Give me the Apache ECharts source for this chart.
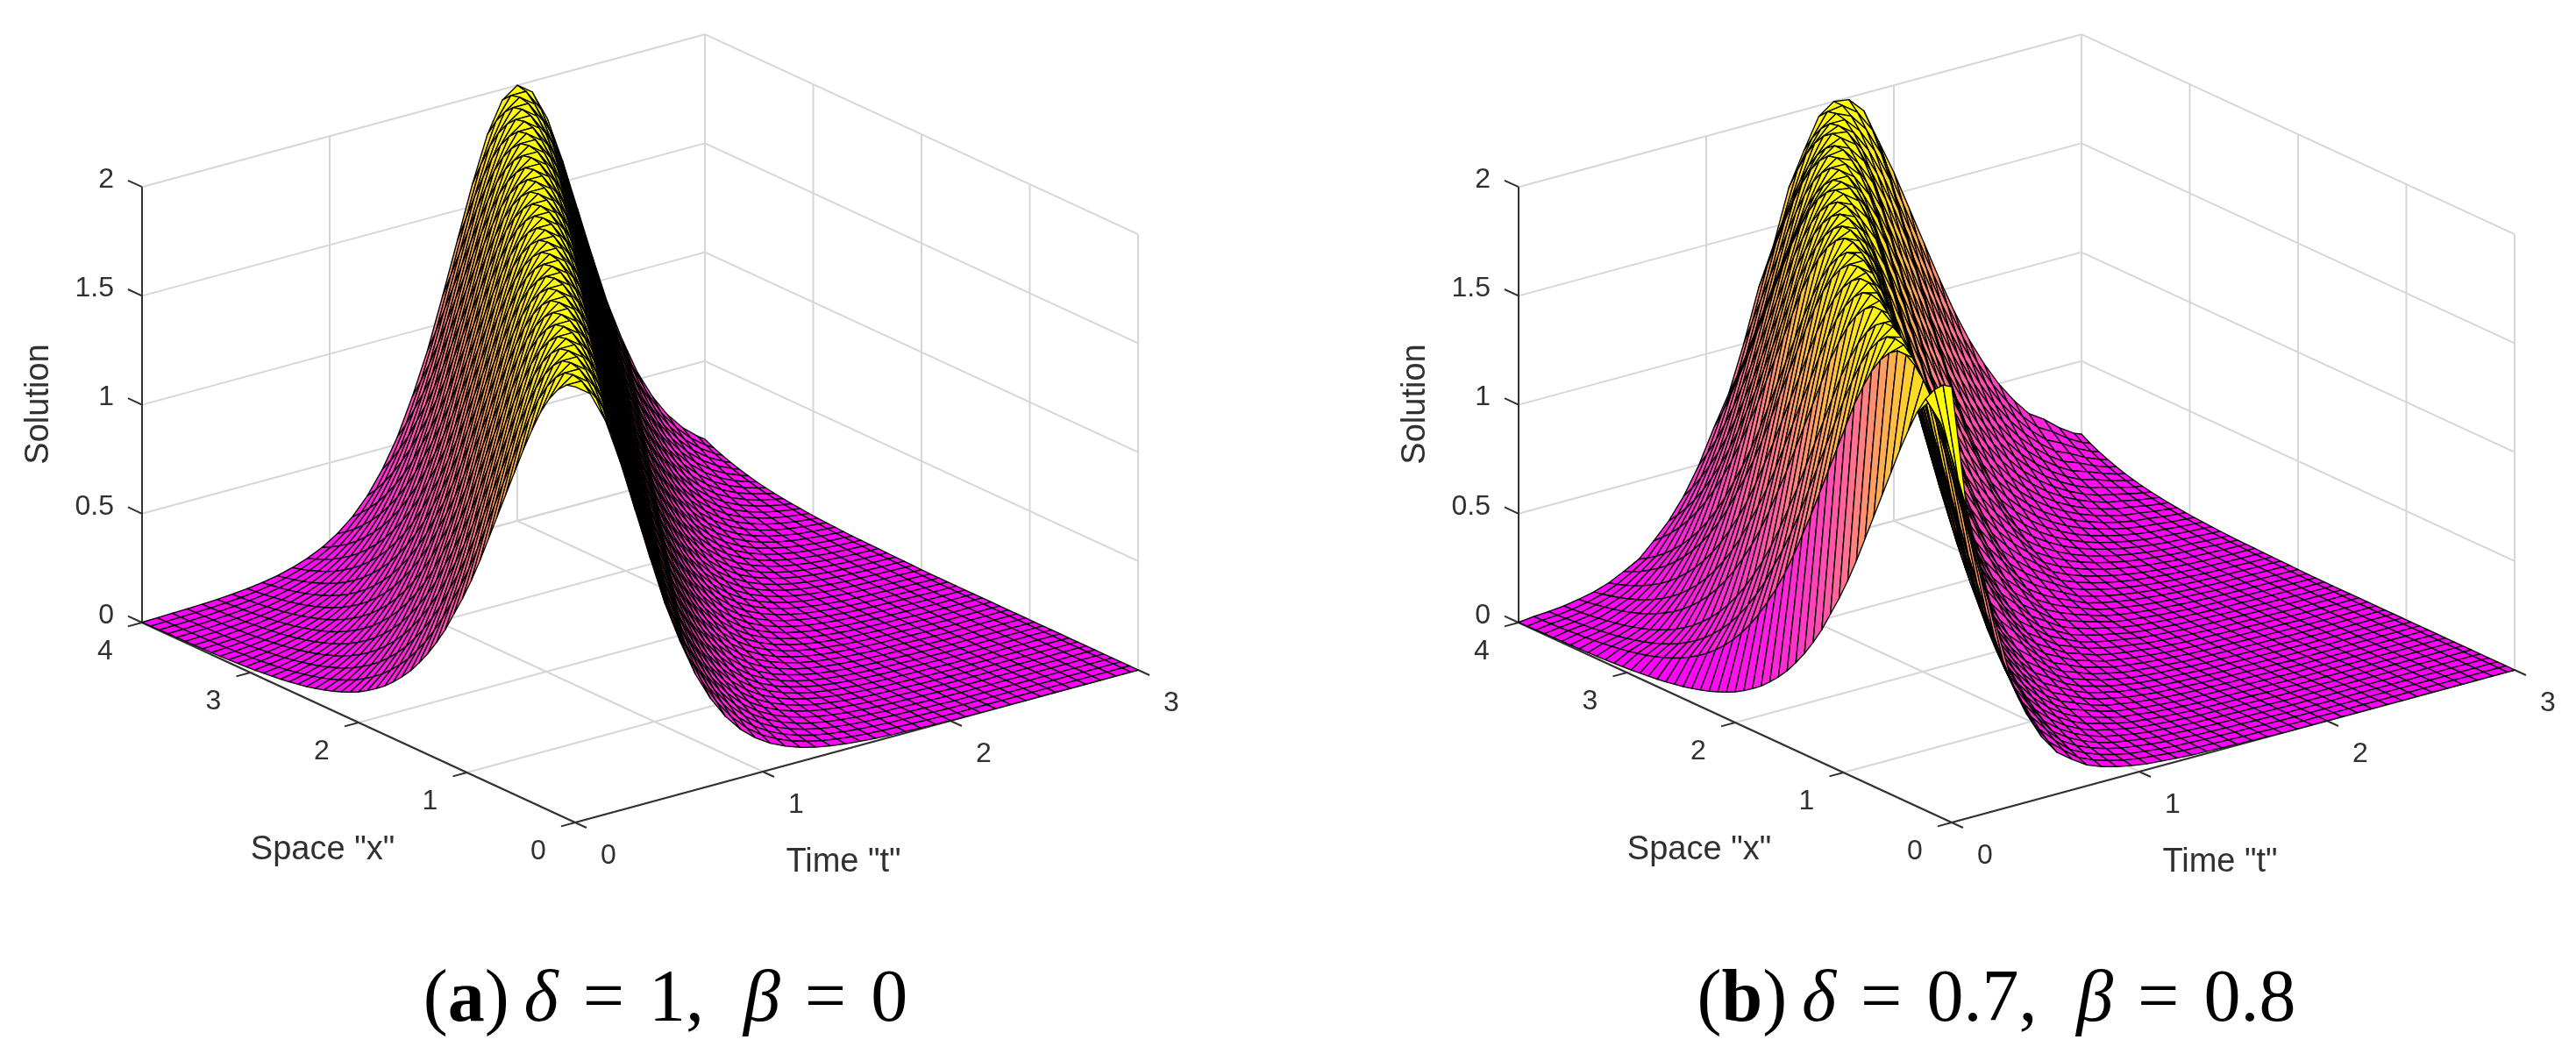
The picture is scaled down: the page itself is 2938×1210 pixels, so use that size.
<!DOCTYPE html>
<html><head><meta charset="utf-8"><style>html,body{margin:0;background:#fff}#c{width:2938px;height:1210px}</style>
<script src="https://cdn.jsdelivr.net/npm/echarts@6/dist/echarts.min.js"></script></head><body><div id="c"></div>
<script>
// Mesh
const timeT=[0,.08,.16,.24,.32,.4,.48,.56,.64,.72,.8,.88,.96,1.04,1.12,1.2,1.28,1.36,1.44,1.52,1.6,1.68,1.76,1.84,1.92,2,2.08,2.16,2.24,2.32,2.4,2.48,2.56,2.64,2.72,2.8,2.88,2.96,3];
const spaceX=[0,.08,.16,.24,.32,.4,.48,.56,.64,.72,.8,.88,.96,1.04,1.12,1.2,1.28,1.36,1.44,1.52,1.6,1.68,1.76,1.84,1.92,2,2.08,2.16,2.24,2.32,2.4,2.48,2.56,2.64,2.72,2.8,2.88,2.96,3.04,3.12,3.2,3.28,3.36,3.44,3.52,3.6,3.68,3.76,3.84,3.92,4];
const tTicks=[0,1,2,3], xTicks=[0,1,2,3,4], zTicks=[0,.5,1,1.5,2];
// Solution heights in hundredths; one row per time, one column per space step
const solutionA=[
[200,199,195,189,181,171,160,148,136,124,112,100,89,79,70,61,53.3,46.4,40.3,34.8,30.1,26,22.3,19.2,16.5,14.1,12.1,10.4,8.9,7.6,6.5,5.5,4.7,4,3.4,2.9,2.5,2.1,1.8,1.5,1.3,1.1,.9,.8,.7,.6,.5,.4,.3,.2,.1],
[195,199,200,199,195,189,181,171,160,148,136,124,112,100,89,79,70,61,53.3,46.4,40.3,34.8,30.1,26,22.3,19.2,16.5,14.1,12.1,10.4,8.9,7.6,6.5,5.5,4.7,4,3.4,2.9,2.5,2.1,1.8,1.5,1.3,1.1,.9,.8,.7,.6,.5,.4,.3],
[181,189,195,199,200,199,195,189,181,171,160,148,136,124,112,100,89,79,70,61,53.3,46.4,40.3,34.8,30.1,26,22.3,19.2,16.5,14.1,12.1,10.4,8.9,7.6,6.5,5.5,4.7,4,3.4,2.9,2.5,2.1,1.8,1.5,1.3,1.1,.9,.8,.7,.6,.5],
[160,171,181,189,195,199,200,199,195,189,181,171,160,148,136,124,112,100,89,79,70,61,53.3,46.4,40.3,34.8,30.1,26,22.3,19.2,16.5,14.1,12.1,10.4,8.9,7.6,6.5,5.5,4.7,4,3.4,2.9,2.5,2.1,1.8,1.5,1.3,1.1,.9,.8,.7],
[136,148,160,171,181,189,195,199,200,199,195,189,181,171,160,148,136,124,112,100,89,79,70,61,53.3,46.4,40.3,34.8,30.1,26,22.3,19.2,16.5,14.1,12.1,10.4,8.9,7.6,6.5,5.5,4.7,4,3.4,2.9,2.5,2.1,1.8,1.5,1.3,1.1,.9],
[112,124,136,148,160,171,181,189,195,199,200,199,195,189,181,171,160,148,136,124,112,100,89,79,70,61,53.3,46.4,40.3,34.8,30.1,26,22.3,19.2,16.5,14.1,12.1,10.4,8.9,7.6,6.5,5.5,4.7,4,3.4,2.9,2.5,2.1,1.8,1.5,1.3],
[89,100,112,124,136,148,160,171,181,189,195,199,200,199,195,189,181,171,160,148,136,124,112,100,89,79,70,61,53.3,46.4,40.3,34.8,30.1,26,22.3,19.2,16.5,14.1,12.1,10.4,8.9,7.6,6.5,5.5,4.7,4,3.4,2.9,2.5,2.1,1.8],
[70,79,89,100,112,124,136,148,160,171,181,189,195,199,200,199,195,189,181,171,160,148,136,124,112,100,89,79,70,61,53.3,46.4,40.3,34.8,30.1,26,22.3,19.2,16.5,14.1,12.1,10.4,8.9,7.6,6.5,5.5,4.7,4,3.4,2.9,2.5],
[53.3,61,70,79,89,100,112,124,136,148,160,171,181,189,195,199,200,199,195,189,181,171,160,148,136,124,112,100,89,79,70,61,53.3,46.4,40.3,34.8,30.1,26,22.3,19.2,16.5,14.1,12.1,10.4,8.9,7.6,6.5,5.5,4.7,4,3.4],
[40.3,46.4,53.3,61,70,79,89,100,112,124,136,148,160,171,181,189,195,199,200,199,195,189,181,171,160,148,136,124,112,100,89,79,70,61,53.3,46.4,40.3,34.8,30.1,26,22.3,19.2,16.5,14.1,12.1,10.4,8.9,7.6,6.5,5.5,4.7],
[30.1,34.8,40.3,46.4,53.3,61,70,79,89,100,112,124,136,148,160,171,181,189,195,199,200,199,195,189,181,171,160,148,136,124,112,100,89,79,70,61,53.3,46.4,40.3,34.8,30.1,26,22.3,19.2,16.5,14.1,12.1,10.4,8.9,7.6,6.5],
[22.3,26,30.1,34.8,40.3,46.4,53.3,61,70,79,89,100,112,124,136,148,160,171,181,189,195,199,200,199,195,189,181,171,160,148,136,124,112,100,89,79,70,61,53.3,46.4,40.3,34.8,30.1,26,22.3,19.2,16.5,14.1,12.1,10.4,8.9],
[16.5,19.2,22.3,26,30.1,34.8,40.3,46.4,53.3,61,70,79,89,100,112,124,136,148,160,171,181,189,195,199,200,199,195,189,181,171,160,148,136,124,112,100,89,79,70,61,53.3,46.4,40.3,34.8,30.1,26,22.3,19.2,16.5,14.1,12.1],
[12.1,14.1,16.5,19.2,22.3,26,30.1,34.8,40.3,46.4,53.3,61,70,79,89,100,112,124,136,148,160,171,181,189,195,199,200,199,195,189,181,171,160,148,136,124,112,100,89,79,70,61,53.3,46.4,40.3,34.8,30.1,26,22.3,19.2,16.5],
[8.9,10.4,12.1,14.1,16.5,19.2,22.3,26,30.1,34.8,40.3,46.4,53.3,61,70,79,89,100,112,124,136,148,160,171,181,189,195,199,200,199,195,189,181,171,160,148,136,124,112,100,89,79,70,61,53.3,46.4,40.3,34.8,30.1,26,22.3],
[6.5,7.6,8.9,10.4,12.1,14.1,16.5,19.2,22.3,26,30.1,34.8,40.3,46.4,53.3,61,70,79,89,100,112,124,136,148,160,171,181,189,195,199,200,199,195,189,181,171,160,148,136,124,112,100,89,79,70,61,53.3,46.4,40.3,34.8,30.1],
[4.7,5.5,6.5,7.6,8.9,10.4,12.1,14.1,16.5,19.2,22.3,26,30.1,34.8,40.3,46.4,53.3,61,70,79,89,100,112,124,136,148,160,171,181,189,195,199,200,199,195,189,181,171,160,148,136,124,112,100,89,79,70,61,53.3,46.4,40.3],
[3.4,4,4.7,5.5,6.5,7.6,8.9,10.4,12.1,14.1,16.5,19.2,22.3,26,30.1,34.8,40.3,46.4,53.3,61,70,79,89,100,112,124,136,148,160,171,181,189,195,199,200,199,195,189,181,171,160,148,136,124,112,100,89,79,70,61,53.3],
[2.5,2.9,3.4,4,4.7,5.5,6.5,7.6,8.9,10.4,12.1,14.1,16.5,19.2,22.3,26,30.1,34.8,40.3,46.4,53.3,61,70,79,89,100,112,124,136,148,160,171,181,189,195,199,200,199,195,189,181,171,160,148,136,124,112,100,89,79,70],
[1.8,2.1,2.5,2.9,3.4,4,4.7,5.5,6.5,7.6,8.9,10.4,12.1,14.1,16.5,19.2,22.3,26,30.1,34.8,40.3,46.4,53.3,61,70,79,89,100,112,124,136,148,160,171,181,189,195,199,200,199,195,189,181,171,160,148,136,124,112,100,89],
[1.3,1.5,1.8,2.1,2.5,2.9,3.4,4,4.7,5.5,6.5,7.6,8.9,10.4,12.1,14.1,16.5,19.2,22.3,26,30.1,34.8,40.3,46.4,53.3,61,70,79,89,100,112,124,136,148,160,171,181,189,195,199,200,199,195,189,181,171,160,148,136,124,112],
[.9,1.1,1.3,1.5,1.8,2.1,2.5,2.9,3.4,4,4.7,5.5,6.5,7.6,8.9,10.4,12.1,14.1,16.5,19.2,22.3,26,30.1,34.8,40.3,46.4,53.3,61,70,79,89,100,112,124,136,148,160,171,181,189,195,199,200,199,195,189,181,171,160,148,136],
[.7,.8,.9,1.1,1.3,1.5,1.8,2.1,2.5,2.9,3.4,4,4.7,5.5,6.5,7.6,8.9,10.4,12.1,14.1,16.5,19.2,22.3,26,30.1,34.8,40.3,46.4,53.3,61,70,79,89,100,112,124,136,148,160,171,181,189,195,199,200,199,195,189,181,171,160],
[.5,.6,.7,.8,.9,1.1,1.3,1.5,1.8,2.1,2.5,2.9,3.4,4,4.7,5.5,6.5,7.6,8.9,10.4,12.1,14.1,16.5,19.2,22.3,26,30.1,34.8,40.3,46.4,53.3,61,70,79,89,100,112,124,136,148,160,171,181,189,195,199,200,199,195,189,181],
[.3,.4,.5,.6,.7,.8,.9,1.1,1.3,1.5,1.8,2.1,2.5,2.9,3.4,4,4.7,5.5,6.5,7.6,8.9,10.4,12.1,14.1,16.5,19.2,22.3,26,30.1,34.8,40.3,46.4,53.3,61,70,79,89,100,112,124,136,148,160,171,181,189,195,199,200,199,195],
[.1,.2,.3,.4,.5,.6,.7,.8,.9,1.1,1.3,1.5,1.8,2.1,2.5,2.9,3.4,4,4.7,5.5,6.5,7.6,8.9,10.4,12.1,14.1,16.5,19.2,22.3,26,30.1,34.8,40.3,46.4,53.3,61,70,79,89,100,112,124,136,148,160,171,181,189,195,199,200],
[0,0,.1,.2,.3,.4,.5,.6,.7,.8,.9,1.1,1.3,1.5,1.8,2.1,2.5,2.9,3.4,4,4.7,5.5,6.5,7.6,8.9,10.4,12.1,14.1,16.5,19.2,22.3,26,30.1,34.8,40.3,46.4,53.3,61,70,79,89,100,112,124,136,148,160,171,181,189,195],
[0,0,0,0,.1,.2,.3,.4,.5,.6,.7,.8,.9,1.1,1.3,1.5,1.8,2.1,2.5,2.9,3.4,4,4.7,5.5,6.5,7.6,8.9,10.4,12.1,14.1,16.5,19.2,22.3,26,30.1,34.8,40.3,46.4,53.3,61,70,79,89,100,112,124,136,148,160,171,181],
[0,0,0,0,0,0,.1,.2,.3,.4,.5,.6,.7,.8,.9,1.1,1.3,1.5,1.8,2.1,2.5,2.9,3.4,4,4.7,5.5,6.5,7.6,8.9,10.4,12.1,14.1,16.5,19.2,22.3,26,30.1,34.8,40.3,46.4,53.3,61,70,79,89,100,112,124,136,148,160],
[0,0,0,0,0,0,0,0,.1,.2,.3,.4,.5,.6,.7,.8,.9,1.1,1.3,1.5,1.8,2.1,2.5,2.9,3.4,4,4.7,5.5,6.5,7.6,8.9,10.4,12.1,14.1,16.5,19.2,22.3,26,30.1,34.8,40.3,46.4,53.3,61,70,79,89,100,112,124,136],
[0,0,0,0,0,0,0,0,0,0,.1,.2,.3,.4,.5,.6,.7,.8,.9,1.1,1.3,1.5,1.8,2.1,2.5,2.9,3.4,4,4.7,5.5,6.5,7.6,8.9,10.4,12.1,14.1,16.5,19.2,22.3,26,30.1,34.8,40.3,46.4,53.3,61,70,79,89,100,112],
[0,0,0,0,0,0,0,0,0,0,0,0,.1,.2,.3,.4,.5,.6,.7,.8,.9,1.1,1.3,1.5,1.8,2.1,2.5,2.9,3.4,4,4.7,5.5,6.5,7.6,8.9,10.4,12.1,14.1,16.5,19.2,22.3,26,30.1,34.8,40.3,46.4,53.3,61,70,79,89],
[0,0,0,0,0,0,0,0,0,0,0,0,0,0,.1,.2,.3,.4,.5,.6,.7,.8,.9,1.1,1.3,1.5,1.8,2.1,2.5,2.9,3.4,4,4.7,5.5,6.5,7.6,8.9,10.4,12.1,14.1,16.5,19.2,22.3,26,30.1,34.8,40.3,46.4,53.3,61,70],
[0,0,0,0,0,0,0,0,0,0,0,0,0,0,0,0,.1,.2,.3,.4,.5,.6,.7,.8,.9,1.1,1.3,1.5,1.8,2.1,2.5,2.9,3.4,4,4.7,5.5,6.5,7.6,8.9,10.4,12.1,14.1,16.5,19.2,22.3,26,30.1,34.8,40.3,46.4,53.3],
[0,0,0,0,0,0,0,0,0,0,0,0,0,0,0,0,0,0,.1,.2,.3,.4,.5,.6,.7,.8,.9,1.1,1.3,1.5,1.8,2.1,2.5,2.9,3.4,4,4.7,5.5,6.5,7.6,8.9,10.4,12.1,14.1,16.5,19.2,22.3,26,30.1,34.8,40.3],
[0,0,0,0,0,0,0,0,0,0,0,0,0,0,0,0,0,0,0,0,.1,.2,.3,.4,.5,.6,.7,.8,.9,1.1,1.3,1.5,1.8,2.1,2.5,2.9,3.4,4,4.7,5.5,6.5,7.6,8.9,10.4,12.1,14.1,16.5,19.2,22.3,26,30.1],
[0,0,0,0,0,0,0,0,0,0,0,0,0,0,0,0,0,0,0,0,0,0,.1,.2,.3,.4,.5,.6,.7,.8,.9,1.1,1.3,1.5,1.8,2.1,2.5,2.9,3.4,4,4.7,5.5,6.5,7.6,8.9,10.4,12.1,14.1,16.5,19.2,22.3],
[0,0,0,0,0,0,0,0,0,0,0,0,0,0,0,0,0,0,0,0,0,0,0,0,.1,.2,.3,.4,.5,.6,.7,.8,.9,1.1,1.3,1.5,1.8,2.1,2.5,2.9,3.4,4,4.7,5.5,6.5,7.6,8.9,10.4,12.1,14.1,16.5],
[0,0,0,0,0,0,0,0,0,0,0,0,0,0,0,0,0,0,0,0,0,0,0,0,0,.1,.2,.3,.4,.5,.6,.7,.8,.9,1.1,1.3,1.5,1.8,2.1,2.5,2.9,3.4,4,4.7,5.5,6.5,7.6,8.9,10.4,12.1,14.1]
];
const solutionB=[
[200,199,195,189,181,171,160,148,136,124,112,100,89,79,70,61,53.3,46.4,40.3,34.8,30.1,26,22.3,19.2,16.5,14.1,12.1,10.4,8.9,7.6,6.5,5.5,4.7,4,3.4,2.9,2.5,2.1,1.8,1.5,1.3,1.1,.9,.8,.7,.6,.5,.4,.3,.2,.1],
[142,154,166,176,185,192,197,200,200,197,192,185,176,166,154,142,130,118,106,95,84,74,65,57.1,49.7,43.2,37.5,32.4,28,24.1,20.7,17.8,15.3,13.1,11.2,9.6,8.2,7,6,5.1,4.4,3.7,3.2,2.7,2.3,2,1.7,1.4,1.2,1,.9],
[112,124,136,148,160,171,181,189,195,199,200,199,195,189,181,171,160,148,136,124,112,100,89,79,70,61,53.3,46.4,40.3,34.8,30.1,26,22.3,19.2,16.5,14.1,12.1,10.4,8.9,7.6,6.5,5.5,4.7,4,3.4,2.9,2.5,2.1,1.8,1.5,1.3],
[84,95,106,118,130,142,154,166,176,185,192,197,200,200,197,192,185,176,166,154,142,130,118,106,95,84,74,65,57.1,49.7,43.2,37.5,32.4,28,24.1,20.7,17.8,15.3,13.1,11.2,9.6,8.2,7,6,5.1,4.4,3.7,3.2,2.7,2.3,2],
[57.1,65,74,84,95,106,118,130,142,154,166,176,185,192,197,200,200,197,192,185,176,166,154,142,130,118,106,95,84,74,65,57.1,49.7,43.2,37.5,32.4,28,24.1,20.7,17.8,15.3,13.1,11.2,9.6,8.2,7,6,5.1,4.4,3.7,3.2],
[40.3,46.4,53.3,61,70,79,89,100,112,124,136,148,160,171,181,189,195,199,200,199,195,189,181,171,160,148,136,124,112,100,89,79,70,61,53.3,46.4,40.3,34.8,30.1,26,22.3,19.2,16.5,14.1,12.1,10.4,8.9,7.6,6.5,5.5,4.7],
[28,32.4,37.5,43.2,49.7,57.1,65,74,84,95,106,118,130,142,154,166,176,185,192,197,200,200,197,192,185,176,166,154,142,130,118,106,95,84,74,65,57.1,49.7,43.2,37.5,32.4,28,24.1,20.7,17.8,15.3,13.1,11.2,9.6,8.2,7],
[19.2,22.3,26,30.1,34.8,40.3,46.4,53.3,61,70,79,89,100,112,124,136,148,160,171,181,189,195,199,200,199,195,189,181,171,160,148,136,124,112,100,89,79,70,61,53.3,46.4,40.3,34.8,30.1,26,22.3,19.2,16.5,14.1,12.1,10.4],
[14.1,16.5,19.2,22.3,26,30.1,34.8,40.3,46.4,53.3,61,70,79,89,100,112,124,136,148,160,171,181,189,195,199,200,199,195,189,181,171,160,148,136,124,112,100,89,79,70,61,53.3,46.4,40.3,34.8,30.1,26,22.3,19.2,16.5,14.1],
[9.6,11.2,13.1,15.3,17.8,20.7,24.1,28,32.4,37.5,43.2,49.7,57.1,65,74,84,95,106,118,130,142,154,166,176,185,192,197,200,200,197,192,185,176,166,154,142,130,118,106,95,84,74,65,57.1,49.7,43.2,37.5,32.4,28,24.1,20.7],
[7,8.2,9.6,11.2,13.1,15.3,17.8,20.7,24.1,28,32.4,37.5,43.2,49.7,57.1,65,74,84,95,106,118,130,142,154,166,176,185,192,197,200,200,197,192,185,176,166,154,142,130,118,106,95,84,74,65,57.1,49.7,43.2,37.5,32.4,28],
[5.1,6,7,8.2,9.6,11.2,13.1,15.3,17.8,20.7,24.1,28,32.4,37.5,43.2,49.7,57.1,65,74,84,95,106,118,130,142,154,166,176,185,192,197,200,200,197,192,185,176,166,154,142,130,118,106,95,84,74,65,57.1,49.7,43.2,37.5],
[3.7,4.4,5.1,6,7,8.2,9.6,11.2,13.1,15.3,17.8,20.7,24.1,28,32.4,37.5,43.2,49.7,57.1,65,74,84,95,106,118,130,142,154,166,176,185,192,197,200,200,197,192,185,176,166,154,142,130,118,106,95,84,74,65,57.1,49.7],
[2.7,3.2,3.7,4.4,5.1,6,7,8.2,9.6,11.2,13.1,15.3,17.8,20.7,24.1,28,32.4,37.5,43.2,49.7,57.1,65,74,84,95,106,118,130,142,154,166,176,185,192,197,200,200,197,192,185,176,166,154,142,130,118,106,95,84,74,65],
[2.1,2.5,2.9,3.4,4,4.7,5.5,6.5,7.6,8.9,10.4,12.1,14.1,16.5,19.2,22.3,26,30.1,34.8,40.3,46.4,53.3,61,70,79,89,100,112,124,136,148,160,171,181,189,195,199,200,199,195,189,181,171,160,148,136,124,112,100,89,79],
[1.5,1.8,2.1,2.5,2.9,3.4,4,4.7,5.5,6.5,7.6,8.9,10.4,12.1,14.1,16.5,19.2,22.3,26,30.1,34.8,40.3,46.4,53.3,61,70,79,89,100,112,124,136,148,160,171,181,189,195,199,200,199,195,189,181,171,160,148,136,124,112,100],
[1.1,1.3,1.5,1.8,2.1,2.5,2.9,3.4,4,4.7,5.5,6.5,7.6,8.9,10.4,12.1,14.1,16.5,19.2,22.3,26,30.1,34.8,40.3,46.4,53.3,61,70,79,89,100,112,124,136,148,160,171,181,189,195,199,200,199,195,189,181,171,160,148,136,124],
[.9,1,1.2,1.4,1.7,2,2.3,2.7,3.2,3.7,4.4,5.1,6,7,8.2,9.6,11.2,13.1,15.3,17.8,20.7,24.1,28,32.4,37.5,43.2,49.7,57.1,65,74,84,95,106,118,130,142,154,166,176,185,192,197,200,200,197,192,185,176,166,154,142],
[.7,.8,.9,1,1.2,1.4,1.7,2,2.3,2.7,3.2,3.7,4.4,5.1,6,7,8.2,9.6,11.2,13.1,15.3,17.8,20.7,24.1,28,32.4,37.5,43.2,49.7,57.1,65,74,84,95,106,118,130,142,154,166,176,185,192,197,200,200,197,192,185,176,166],
[.5,.6,.7,.8,.9,1.1,1.3,1.5,1.8,2.1,2.5,2.9,3.4,4,4.7,5.5,6.5,7.6,8.9,10.4,12.1,14.1,16.5,19.2,22.3,26,30.1,34.8,40.3,46.4,53.3,61,70,79,89,100,112,124,136,148,160,171,181,189,195,199,200,199,195,189,181],
[.3,.4,.5,.6,.7,.8,.9,1.1,1.3,1.5,1.8,2.1,2.5,2.9,3.4,4,4.7,5.5,6.5,7.6,8.9,10.4,12.1,14.1,16.5,19.2,22.3,26,30.1,34.8,40.3,46.4,53.3,61,70,79,89,100,112,124,136,148,160,171,181,189,195,199,200,199,195],
[.2,.3,.4,.5,.6,.7,.8,.9,1,1.2,1.4,1.7,2,2.3,2.7,3.2,3.7,4.4,5.1,6,7,8.2,9.6,11.2,13.1,15.3,17.8,20.7,24.1,28,32.4,37.5,43.2,49.7,57.1,65,74,84,95,106,118,130,142,154,166,176,185,192,197,200,200],
[0,.1,.2,.3,.4,.5,.6,.7,.8,.9,1.1,1.3,1.5,1.8,2.1,2.5,2.9,3.4,4,4.7,5.5,6.5,7.6,8.9,10.4,12.1,14.1,16.5,19.2,22.3,26,30.1,34.8,40.3,46.4,53.3,61,70,79,89,100,112,124,136,148,160,171,181,189,195,199],
[0,0,.1,.2,.3,.4,.5,.6,.7,.8,.9,1,1.2,1.4,1.7,2,2.3,2.7,3.2,3.7,4.4,5.1,6,7,8.2,9.6,11.2,13.1,15.3,17.8,20.7,24.1,28,32.4,37.5,43.2,49.7,57.1,65,74,84,95,106,118,130,142,154,166,176,185,192],
[0,0,0,0,.1,.2,.3,.4,.5,.6,.7,.8,.9,1,1.2,1.4,1.7,2,2.3,2.7,3.2,3.7,4.4,5.1,6,7,8.2,9.6,11.2,13.1,15.3,17.8,20.7,24.1,28,32.4,37.5,43.2,49.7,57.1,65,74,84,95,106,118,130,142,154,166,176],
[0,0,0,0,0,0,.1,.2,.3,.4,.5,.6,.7,.8,.9,1.1,1.3,1.5,1.8,2.1,2.5,2.9,3.4,4,4.7,5.5,6.5,7.6,8.9,10.4,12.1,14.1,16.5,19.2,22.3,26,30.1,34.8,40.3,46.4,53.3,61,70,79,89,100,112,124,136,148,160],
[0,0,0,0,0,0,0,.1,.2,.3,.4,.5,.6,.7,.8,.9,1,1.2,1.4,1.7,2,2.3,2.7,3.2,3.7,4.4,5.1,6,7,8.2,9.6,11.2,13.1,15.3,17.8,20.7,24.1,28,32.4,37.5,43.2,49.7,57.1,65,74,84,95,106,118,130,142],
[0,0,0,0,0,0,0,0,0,.1,.2,.3,.4,.5,.6,.7,.8,.9,1.1,1.3,1.5,1.8,2.1,2.5,2.9,3.4,4,4.7,5.5,6.5,7.6,8.9,10.4,12.1,14.1,16.5,19.2,22.3,26,30.1,34.8,40.3,46.4,53.3,61,70,79,89,100,112,124],
[0,0,0,0,0,0,0,0,0,0,.1,.2,.3,.4,.5,.6,.7,.8,.9,1,1.2,1.4,1.7,2,2.3,2.7,3.2,3.7,4.4,5.1,6,7,8.2,9.6,11.2,13.1,15.3,17.8,20.7,24.1,28,32.4,37.5,43.2,49.7,57.1,65,74,84,95,106],
[0,0,0,0,0,0,0,0,0,0,0,0,.1,.2,.3,.4,.5,.6,.7,.8,.9,1.1,1.3,1.5,1.8,2.1,2.5,2.9,3.4,4,4.7,5.5,6.5,7.6,8.9,10.4,12.1,14.1,16.5,19.2,22.3,26,30.1,34.8,40.3,46.4,53.3,61,70,79,89],
[0,0,0,0,0,0,0,0,0,0,0,0,0,.1,.2,.3,.4,.5,.6,.7,.8,.9,1,1.2,1.4,1.7,2,2.3,2.7,3.2,3.7,4.4,5.1,6,7,8.2,9.6,11.2,13.1,15.3,17.8,20.7,24.1,28,32.4,37.5,43.2,49.7,57.1,65,74],
[0,0,0,0,0,0,0,0,0,0,0,0,0,0,0,.1,.2,.3,.4,.5,.6,.7,.8,.9,1.1,1.3,1.5,1.8,2.1,2.5,2.9,3.4,4,4.7,5.5,6.5,7.6,8.9,10.4,12.1,14.1,16.5,19.2,22.3,26,30.1,34.8,40.3,46.4,53.3,61],
[0,0,0,0,0,0,0,0,0,0,0,0,0,0,0,0,.1,.2,.3,.4,.5,.6,.7,.8,.9,1,1.2,1.4,1.7,2,2.3,2.7,3.2,3.7,4.4,5.1,6,7,8.2,9.6,11.2,13.1,15.3,17.8,20.7,24.1,28,32.4,37.5,43.2,49.7],
[0,0,0,0,0,0,0,0,0,0,0,0,0,0,0,0,0,0,.1,.2,.3,.4,.5,.6,.7,.8,.9,1.1,1.3,1.5,1.8,2.1,2.5,2.9,3.4,4,4.7,5.5,6.5,7.6,8.9,10.4,12.1,14.1,16.5,19.2,22.3,26,30.1,34.8,40.3],
[0,0,0,0,0,0,0,0,0,0,0,0,0,0,0,0,0,0,0,.1,.2,.3,.4,.5,.6,.7,.8,.9,1,1.2,1.4,1.7,2,2.3,2.7,3.2,3.7,4.4,5.1,6,7,8.2,9.6,11.2,13.1,15.3,17.8,20.7,24.1,28,32.4],
[0,0,0,0,0,0,0,0,0,0,0,0,0,0,0,0,0,0,0,0,.1,.2,.3,.4,.5,.6,.7,.8,.9,1,1.2,1.4,1.7,2,2.3,2.7,3.2,3.7,4.4,5.1,6,7,8.2,9.6,11.2,13.1,15.3,17.8,20.7,24.1,28],
[0,0,0,0,0,0,0,0,0,0,0,0,0,0,0,0,0,0,0,0,0,0,.1,.2,.3,.4,.5,.6,.7,.8,.9,1.1,1.3,1.5,1.8,2.1,2.5,2.9,3.4,4,4.7,5.5,6.5,7.6,8.9,10.4,12.1,14.1,16.5,19.2,22.3],
[0,0,0,0,0,0,0,0,0,0,0,0,0,0,0,0,0,0,0,0,0,0,0,.1,.2,.3,.4,.5,.6,.7,.8,.9,1,1.2,1.4,1.7,2,2.3,2.7,3.2,3.7,4.4,5.1,6,7,8.2,9.6,11.2,13.1,15.3,17.8],
[0,0,0,0,0,0,0,0,0,0,0,0,0,0,0,0,0,0,0,0,0,0,0,0,.1,.2,.3,.4,.5,.6,.7,.8,.9,1.1,1.3,1.5,1.8,2.1,2.5,2.9,3.4,4,4.7,5.5,6.5,7.6,8.9,10.4,12.1,14.1,16.5]
];

// Oblique view of the box, in plane units of each panel's hidden cartesian axes
const origin=[656,938], tStep=[214,-58], xStep=[-123.5,-57], zStep=[0,-248.4];
const project=(t,x,z)=>[origin[0]+tStep[0]*t+xStep[0]*x, origin[1]+tStep[1]*t+xStep[1]*x+zStep[1]*z];
const spring=f=>`rgb(255,${Math.round(255*f)},${Math.round(255*(1-f))})`;
const INK='#303030', WALL='#d6d6d6';
const SANS='"Liberation Sans",Arial,sans-serif', SERIF='"Liberation Serif",serif';

function facets(rows){
  const out=[];
  for(let i=timeT.length-2;i>=0;i--)for(let j=spaceX.length-2;j>=0;j--){
    const z=(a,b)=>rows[a][b]/100;
    out.push([timeT[i],spaceX[j],z(i,j),timeT[i+1],spaceX[j],z(i+1,j),timeT[i+1],spaceX[j+1],z(i+1,j+1),timeT[i],spaceX[j+1],z(i,j+1)]);
  }
  return out;
}
function renderFacet(p,api){
  const pts=[0,1,2,3].map(c=>api.coord(project(api.value(c*3),api.value(c*3+1),api.value(c*3+2))));
  return {type:'polygon',shape:{points:pts},silent:true,style:{fill:spring(Math.min(1,api.value(2)/2)),stroke:'#000',lineWidth:1.35,lineJoin:'round'}};
}
function segRender(color,width){return (p,api)=>{
  const a=api.coord(project(api.value(0),api.value(1),api.value(2))),b=api.coord(project(api.value(3),api.value(4),api.value(5)));
  return {type:'line',silent:true,shape:{x1:a[0],y1:a[1],x2:b[0],y2:b[1]},style:{stroke:color,lineWidth:width}};
};}
const tMax=tTicks[tTicks.length-1], xMax=xTicks[xTicks.length-1], zMax=zTicks[zTicks.length-1];
const wallSegs=[];
zTicks.forEach(z=>{wallSegs.push([0,xMax,z,tMax,xMax,z],[tMax,xMax,z,tMax,0,z]);});
tTicks.forEach(t=>{wallSegs.push([t,0,0,t,xMax,0]);if(t>0)wallSegs.push([t,xMax,0,t,xMax,zMax]);});
xTicks.forEach(x=>{wallSegs.push([0,x,0,tMax,x,0]);wallSegs.push([tMax,x,0,tMax,x,zMax]);});
const axisSegs=[[0,xMax,0,0,xMax,zMax],[0,0,0,0,xMax,0],[0,0,0,tMax,0,0]];
zTicks.forEach(z=>axisSegs.push([0,xMax,z,0,xMax+.13,z]));
xTicks.forEach(x=>axisSegs.push([0,x,0,-.075,x,0]));
tTicks.forEach(t=>axisSegs.push([t,0,0,t,-.105,0]));

const labels=[];
zTicks.forEach(z=>labels.push({p:project(0,xMax,z),dx:-32,dy:-8,text:String(z),align:'right',size:32}));
xTicks.forEach(x=>labels.push({p:project(0,x,0),dx:-42,dy:33,text:String(x),align:'center',size:32}));
tTicks.forEach(t=>labels.push({p:project(t,0,0),dx:38,dy:38,text:String(t),align:'center',size:32}));
labels.push({p:[368,970],dx:0,dy:0,text:'Space "x"',align:'center',size:38});
labels.push({p:[962,984],dx:0,dy:0,text:'Time "t"',align:'center',size:38});
labels.push({p:[45,461],dx:0,dy:0,text:'Solution',align:'center',size:38,rot:Math.PI/2});
function renderLabel(p,api){
  const l=labels[p.dataIndex],c=api.coord(l.p);
  return {type:'text',silent:true,x:c[0]+l.dx,y:c[1]+l.dy,rotation:l.rot||0,style:{text:l.text,font:`${l.size}px ${SANS}`,fill:INK,align:l.align,verticalAlign:'middle'}};
}
function panelSeries(idx,rows){
  const base={type:'custom',xAxisIndex:idx,yAxisIndex:idx,animation:false,clip:false,progressive:0,silent:true};
  return [
    {...base,name:'walls'+idx,renderItem:segRender(WALL,2),data:wallSegs},
    {...base,name:'axes'+idx,renderItem:segRender(INK,2),data:axisSegs},
    {...base,name:'surface'+idx,renderItem:renderFacet,data:facets(rows)},
    {...base,name:'labels'+idx,renderItem:renderLabel,data:labels.map((_,i)=>[i,i])}
  ];
}
const capRich={r:{fontFamily:SERIF,fontSize:84,color:'#000'},b:{fontFamily:SERIF,fontSize:84,fontWeight:'bold',color:'#000'},i:{fontFamily:SERIF,fontSize:84,fontStyle:'italic',color:'#000'}};
const cap=(text,left)=>({text,left,top:1095,textAlign:'center',textStyle:{rich:capRich,fontFamily:SERIF,fontSize:84,fontWeight:'normal',color:'#000'}});
const chart=echarts.init(document.getElementById('c'),null,{renderer:'canvas'});
const hx=(i,max)=>({type:'value',gridIndex:i,min:0,max,show:false});
const hy=i=>({type:'value',gridIndex:i,min:0,max:1210,inverse:true,show:false});
const G='\u00a0\u200a';
chart.setOption({
  animation:false,backgroundColor:'#fff',
  title:[cap(`{r|(}{b|a}{r|)\u2009}{i|δ}{r|${G}=${G}1,${G}\u2009}{i|β}{r|${G}=${G}0}`,754),cap(`{r|(}{b|b}{r|)\u2009}{i|δ}{r|${G}=${G}0.7,${G}\u2009}{i|β}{r|${G}=${G}0.8}`,2272)],
  grid:[{left:0,top:0,width:1469,height:1210},{left:1570,top:0,width:1368,height:1210}],
  xAxis:[hx(0,1469),hx(1,1368)],yAxis:[hy(0),hy(1)],
  series:[...panelSeries(0,solutionA),...panelSeries(1,solutionB)]
});
</script></body></html>
